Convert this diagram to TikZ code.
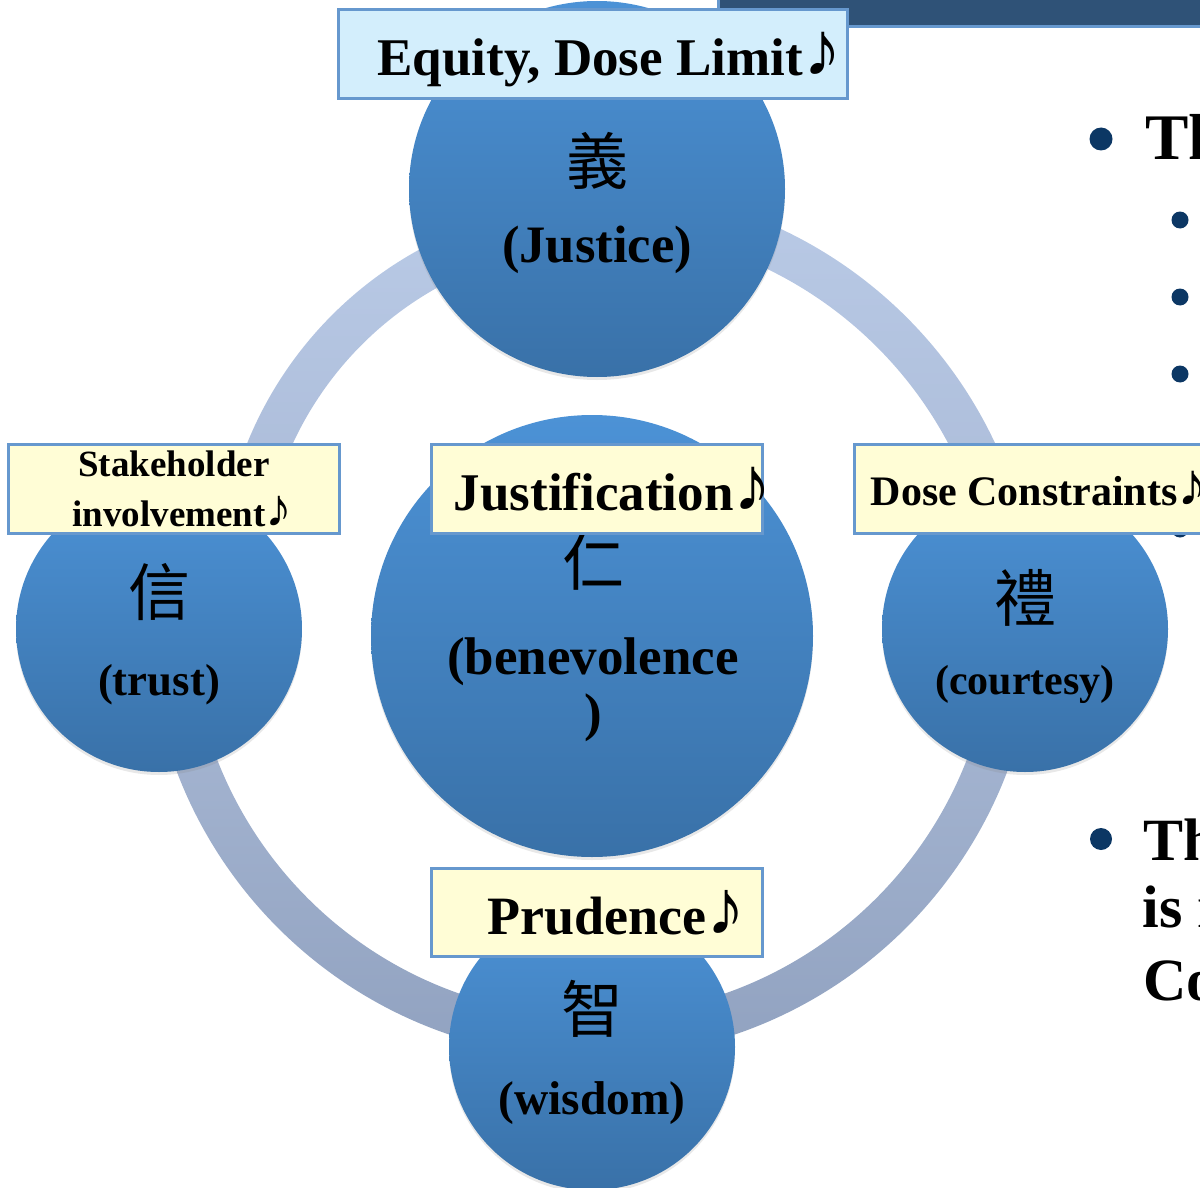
\documentclass[tikz,border=0pt]{standalone}
\usepackage{fontspec}
\setmainfont{Liberation Serif}
\newfontfamily\cjk{Noto Sans CJK TC}
\newfontfamily\notefont[Scale=1.45]{Liberation Serif}
\newcommand\musnote{{\notefont ♪}}
\usetikzlibrary{calc,shadows}
\definecolor{barblue}{RGB}{47,82,119}
\definecolor{edgeblue}{RGB}{102,152,206}
\definecolor{boxblue}{RGB}{211,238,252}
\definecolor{boxyellow}{RGB}{255,253,214}
\definecolor{ctop}{RGB}{76,146,214}
\definecolor{cbot}{RGB}{57,113,168}
\definecolor{rA}{RGB}{185,202,230}
\definecolor{rB}{RGB}{168,184,213}
\definecolor{rC}{RGB}{170,186,214}
\definecolor{rD}{RGB}{145,162,192}
\definecolor{bulletblue}{RGB}{12,55,100}
\begin{document}
\begin{tikzpicture}[x=0.5pt,y=-0.5pt,
  disc/.style={circle,inner sep=0pt,top color=ctop,bottom color=cbot,draw=none,
    drop shadow={shadow xshift=0pt,shadow yshift=-1.5pt,opacity=0.18}},
  tag/.style={rectangle,draw=edgeblue,line width=1.5pt,inner sep=0pt,text depth=0pt},
  han/.style={font=\cjk\fontsize{31}{31}\selectfont,inner sep=0pt},
  gloss/.style={inner sep=0pt,anchor=base},
  dot/.style={circle,fill=bulletblue,inner sep=0pt},
  side/.style={anchor=base west,inner sep=0pt},
]
\useasboundingbox (0,0) rectangle (1200,1188);

% top bar
\draw[fill=barblue,draw=edgeblue,line width=1.5pt] (718,-10) rectangle (1215,27);

% right-hand bullets
\node[dot,minimum size=11.5pt] (b1) at (1101,139) {};
\node[side,font=\bfseries\fontsize{32.5}{39}\selectfont] (t1) at (1145,160) {Th};
\node[dot,minimum size=8.5pt] (s1) at (1180,220) {};
\node[dot,minimum size=8.5pt] (s2) at (1180,297) {};
\node[dot,minimum size=8.5pt] (s3) at (1180,374) {};
\node[dot,minimum size=8.5pt] (s4) at (1180,529) {};
\node[dot,minimum size=11pt] (b2) at (1101,839) {};
\node[side,font=\bfseries\fontsize{30}{36}\selectfont] (t2) at (1143,860) {Th};
\node[side,font=\bfseries\fontsize{30}{36}\selectfont] (t3) at (1142,927) {is r};
\node[side,font=\bfseries\fontsize{30}{36}\selectfont] (t4) at (1143,1000) {Co};

% ring
\shade[top color=rA,bottom color=rB]
  ($(605,588)+(180:386)$) arc[start angle=180,end angle=255,radius=386]
  -- ($(605,588)+(255:344)$) arc[start angle=255,end angle=180,radius=344] -- cycle;
\shade[top color=rA,bottom color=rB]
  ($(592,632)+(270:445)$) arc[start angle=270,end angle=360,radius=445]
  -- ($(592,632)+(360:403)$) arc[start angle=360,end angle=270,radius=403] -- cycle;
\shade[top color=rC,bottom color=rD]
  ($(592,614)+(90:444)$) arc[start angle=90,end angle=180,radius=444]
  -- ($(592,614)+(180:402)$) arc[start angle=180,end angle=90,radius=402] -- cycle;
\shade[top color=rC,bottom color=rD]
  ($(592,614)+(0:444)$) arc[start angle=0,end angle=90,radius=444]
  -- ($(592,614)+(90:402)$) arc[start angle=90,end angle=0,radius=402] -- cycle;

% circles
\node[disc,minimum size=188pt] (yi) at (597,189) {};
\node[disc,minimum size=143pt] (xin) at (159,629) {};
\node[disc,minimum size=143pt] (li) at (1025,629) {};
\node[disc,minimum size=143pt] (zhi) at (592,1047) {};
\node[disc,minimum size=221pt] (ren) at (592,636) {};

% circle texts
\node[han] (yiC) at (597,161) {義};
\node[gloss,font=\bfseries\fontsize{26.3}{30}\selectfont] (yiE) at (597,263) {(Justice)};
\node[han] (xinC) at (159,592) {信};
\node[gloss,font=\bfseries\fontsize{22.4}{26}\selectfont] (xinE) at (159,695) {(trust)};
\node[han] (liC) at (1025,598) {禮};
\node[gloss,font=\bfseries\fontsize{21}{25}\selectfont] (liE) at (1025,694) {(courtesy)};
\node[han] (zhiC) at (592,1009) {智};
\node[gloss,font=\bfseries\fontsize{23.7}{28}\selectfont] (zhiE) at (592,1114) {(wisdom)};
\node[han] (renC) at (593,562) {仁};
\node[gloss,font=\bfseries\fontsize{26.5}{30}\selectfont] (renE1) at (593,674) {(benevolence};
\node[gloss,font=\bfseries\fontsize{26.5}{30}\selectfont] (renE2) at (593,730) {)};

% label boxes
\node[tag,fill=boxblue,minimum width=254.5pt,minimum height=44.5pt,text height=22pt,
  font=\bfseries\fontsize{26.5}{30}\selectfont] (equity) at (593,54)
  {\makebox[0pt]{\hspace*{16.5pt}Equity, Dose Limit\musnote}};
\node[tag,fill=boxyellow,minimum width=165.5pt,minimum height=44.5pt,align=center,
  font=\bfseries\fontsize{18.5}{25}\selectfont] (stake) at (174,489)
  {\makebox[0pt]{Stakeholder}\\\makebox[0pt]{\hspace*{8.5pt}involvement\musnote}};
\node[tag,fill=boxyellow,minimum width=165.5pt,minimum height=44.5pt,text height=21pt,
  font=\bfseries\fontsize{26.5}{30}\selectfont] (justif) at (597,489)
  {\makebox[0pt]{\hspace*{16pt}Justification\musnote}};
\node[tag,fill=boxyellow,minimum width=182pt,minimum height=44.5pt,text height=16pt,
  font=\bfseries\fontsize{21}{24}\selectfont] (dose) at (1036.5,489)
  {\makebox[0pt]{\hspace*{3pt}Dose Constraints\musnote}};
\node[tag,fill=boxyellow,minimum width=165.5pt,minimum height=44pt,text height=21.5pt,
  font=\bfseries\fontsize{27}{30}\selectfont] (prud) at (597,912.5)
  {\makebox[0pt]{\hspace*{19.5pt}Prudence\musnote}};
\end{tikzpicture}
\end{document}
